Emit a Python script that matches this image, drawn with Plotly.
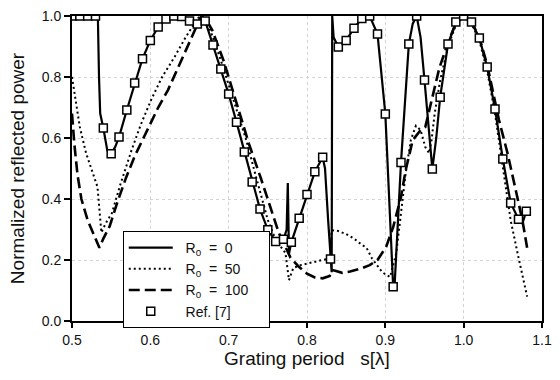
import plotly.graph_objects as go

# R0 = 0 (solid)
x_r0 = [0.500, 0.533, 0.5345, 0.536, 0.540, 0.545, 0.548, 0.550, 0.555, 0.560, 0.570, 0.580, 0.590,
        0.600, 0.610, 0.620, 0.630, 0.640, 0.650, 0.660, 0.667, 0.670, 0.680, 0.690, 0.700, 0.710,
        0.720, 0.730, 0.740, 0.750, 0.760, 0.770, 0.774, 0.7755, 0.777, 0.780, 0.790, 0.800, 0.810,
        0.820, 0.823, 0.827, 0.830, 0.8315, 0.8322, 0.834, 0.840, 0.850, 0.860, 0.870, 0.880, 0.890,
        0.900, 0.905, 0.910, 0.9115, 0.920, 0.930, 0.935, 0.940, 0.945, 0.950, 0.955, 0.960, 0.965,
        0.970, 0.980, 0.990, 1.000, 1.010, 1.020, 1.030, 1.040, 1.050, 1.060, 1.070, 1.075, 1.080]
y_r0 = [1.0, 1.0, 0.80, 0.68, 0.633, 0.56, 0.545, 0.548, 0.57, 0.603, 0.692, 0.78, 0.86,
        0.92, 0.964, 0.99, 1.0, 0.998, 0.984, 0.976, 0.99, 0.984, 0.905, 0.826, 0.744, 0.652,
        0.554, 0.456, 0.367, 0.299, 0.261, 0.268, 0.30, 0.452, 0.22, 0.258, 0.337, 0.415, 0.489,
        0.537, 0.50, 0.33, 0.203, 0.16, 1.0, 0.93, 0.898, 0.92, 0.96, 0.992, 1.0, 0.941,
        0.679, 0.40, 0.112, 0.10, 0.52, 0.908, 0.975, 1.0, 0.93, 0.79, 0.64, 0.498, 0.60,
        0.734, 0.908, 0.98, 1.0, 0.98, 0.928, 0.833, 0.695, 0.531, 0.387, 0.334, 0.32, 0.36]

# R0 = 50 (dotted)
x_r50 = [0.500, 0.505, 0.510, 0.518, 0.526, 0.5325, 0.5375, 0.543, 0.551, 0.562, 0.576, 0.588,
         0.601, 0.615, 0.631, 0.645, 0.655, 0.663, 0.670, 0.677, 0.690, 0.705, 0.7225, 0.735,
         0.750, 0.760, 0.7725, 0.777, 0.7825, 0.793, 0.810, 0.820, 0.830, 0.8315, 0.840, 0.850,
         0.860, 0.870, 0.876, 0.883, 0.889, 0.896, 0.906, 0.914, 0.920, 0.926, 0.9325, 0.939,
         0.945, 0.951, 0.956, 0.959, 0.963, 0.970, 0.980, 0.990, 1.000, 1.010, 1.020, 1.030,
         1.040, 1.051, 1.060, 1.069, 1.081]
y_r50 = [0.80, 0.72, 0.636, 0.55, 0.485, 0.44, 0.29, 0.32, 0.354, 0.45, 0.56, 0.645,
         0.725, 0.80, 0.866, 0.93, 0.97, 1.0, 0.99, 0.95, 0.855, 0.735, 0.593, 0.472,
         0.331, 0.266, 0.223, 0.134, 0.174, 0.184, 0.193, 0.20, 0.206, 0.298, 0.295, 0.285,
         0.27, 0.25, 0.24, 0.205, 0.185, 0.16, 0.144, 0.223, 0.354, 0.485, 0.593, 0.64,
         0.626, 0.57, 0.55, 0.593, 0.68, 0.79, 0.90, 0.97, 1.0, 0.975, 0.92, 0.82,
         0.68, 0.495, 0.33, 0.22, 0.08]

# R0 = 100 (dashed)
x_r100 = [0.500, 0.503, 0.507, 0.512, 0.520, 0.528, 0.535, 0.540, 0.548, 0.558, 0.569, 0.580,
          0.594, 0.610, 0.6225, 0.635, 0.648, 0.658, 0.665, 0.672, 0.679, 0.694, 0.710, 0.726,
          0.741, 0.754, 0.764, 0.7725, 0.779, 0.790, 0.800, 0.810, 0.820, 0.829, 0.832, 0.836,
          0.845, 0.855, 0.870, 0.880, 0.890, 0.901, 0.910, 0.920, 0.926, 0.935, 0.945, 0.951,
          0.956, 0.962, 0.969, 0.981, 0.990, 1.000, 1.010, 1.020, 1.030, 1.045, 1.056, 1.069,
          1.075, 1.081]
y_r100 = [0.68, 0.58, 0.48, 0.40, 0.33, 0.28, 0.24, 0.27, 0.31, 0.39, 0.47, 0.54,
          0.616, 0.70, 0.757, 0.83, 0.90, 0.96, 1.0, 0.985, 0.954, 0.85, 0.718, 0.58,
          0.469, 0.37, 0.289, 0.243, 0.207, 0.177, 0.155, 0.143, 0.14, 0.148, 0.167, 0.165,
          0.158, 0.162, 0.173, 0.183, 0.20, 0.243, 0.308, 0.407, 0.495, 0.593, 0.626, 0.636,
          0.69, 0.76, 0.83, 0.92, 0.975, 1.0, 0.98, 0.93, 0.84, 0.66, 0.55, 0.40,
          0.33, 0.24]

# Ref. [7] (squares)
x_ref = [0.50, 0.51, 0.52, 0.53, 0.54, 0.55, 0.56, 0.57, 0.58, 0.59, 0.60, 0.61, 0.62, 0.63, 0.64,
         0.65, 0.66, 0.67, 0.68, 0.69, 0.70, 0.71, 0.72, 0.73, 0.74, 0.75, 0.76, 0.77, 0.78, 0.79,
         0.80, 0.81, 0.82, 0.83, 0.84, 0.85, 0.86, 0.87, 0.88, 0.89, 0.90, 0.91, 0.92, 0.93, 0.94,
         0.95, 0.96, 0.97, 0.98, 0.99, 1.00, 1.01, 1.02, 1.03, 1.04, 1.05, 1.06, 1.07, 1.08]
y_ref = [1.0, 1.0, 1.0, 1.0, 0.633, 0.548, 0.603, 0.692, 0.78, 0.86, 0.92, 0.964, 0.99, 1.0, 0.998,
         0.984, 0.974, 0.984, 0.905, 0.826, 0.744, 0.652, 0.554, 0.456, 0.367, 0.299, 0.261, 0.268, 0.258, 0.337,
         0.415, 0.489, 0.537, 0.203, 0.898, 0.92, 0.96, 0.992, 1.0, 0.941, 0.679, 0.112, 0.52, 0.908, 1.0,
         0.79, 0.498, 0.734, 0.908, 0.98, 1.0, 0.98, 0.928, 0.833, 0.695, 0.531, 0.387, 0.334, 0.36]

x_ticks = [0.5, 0.6, 0.7, 0.8, 0.9, 1.0, 1.1]
x_tick_labels = ["0.5", "0.6", "0.7", "0.8", "0.9", "1.0", "1.1"]
y_ticks = [0.0, 0.2, 0.4, 0.6, 0.8, 1.0]
y_tick_labels = ["0.0", "0.2", "0.4", "0.6", "0.8", "1.0"]

FONT = "Liberation Sans, Arial, sans-serif"
NB = "\u00a0"

fig = go.Figure()
fig.add_trace(go.Scatter(x=x_r0, y=y_r0, mode="lines",
                         name=NB * 2 + "R<sub>0</sub>" + NB * 2 + "=" + NB * 2 + "0",
                         line=dict(color="black", width=2.2)))
fig.add_trace(go.Scatter(x=x_r50, y=y_r50, mode="lines",
                         name=NB * 2 + "R<sub>0</sub>" + NB * 2 + "=" + NB * 2 + "50",
                         line=dict(color="black", width=2, dash="2px,3px")))
fig.add_trace(go.Scatter(x=x_r100, y=y_r100, mode="lines",
                         name=NB * 2 + "R<sub>0</sub>" + NB * 2 + "=" + NB * 2 + "100" + NB * 4,
                         line=dict(color="black", width=2.6, dash="11px,5px")))
fig.add_trace(go.Scatter(x=x_ref, y=y_ref, mode="markers", name=NB * 2 + "Ref. [7]",
                         marker=dict(symbol="square", size=8, color="white",
                                     line=dict(color="black", width=1.5))))

fig.update_layout(
    width=560, height=380,
    margin=dict(l=72, r=8, t=16, b=59),
    paper_bgcolor="white", plot_bgcolor="white",
    font=dict(family=FONT, color="#111", size=14),
    legend=dict(x=0.108, y=0.295, xanchor="left", yanchor="top",
                bordercolor="black", borderwidth=1, bgcolor="white",
                font=dict(size=14, family=FONT), tracegroupgap=0, itemwidth=44),
    showlegend=True,
)
fig.update_xaxes(range=[0.5, 1.1], tickvals=x_ticks, ticktext=x_tick_labels,
                 ticks="outside", ticklen=5, tickwidth=1.5, tickcolor="black",
                 showline=True, linecolor="black", linewidth=2, mirror=True,
                 showgrid=True, gridcolor="#d4d4d4", griddash="dot", gridwidth=1,
                 zeroline=False, tickfont=dict(size=14),
                 title=dict(text="Grating period\u00a0\u00a0 s[λ]", font=dict(size=19), standoff=5))
fig.update_yaxes(range=[0.0, 1.0], tickvals=y_ticks, ticktext=y_tick_labels,
                 ticks="outside", ticklen=6, tickwidth=1.5, tickcolor="black",
                 showline=True, linecolor="black", linewidth=2, mirror=True,
                 showgrid=True, gridcolor="#d4d4d4", griddash="dot", gridwidth=1,
                 zeroline=False, tickfont=dict(size=14),
                 title=dict(text="Normalized reflected power", font=dict(size=19), standoff=12))

fig.write_html("out.html")
